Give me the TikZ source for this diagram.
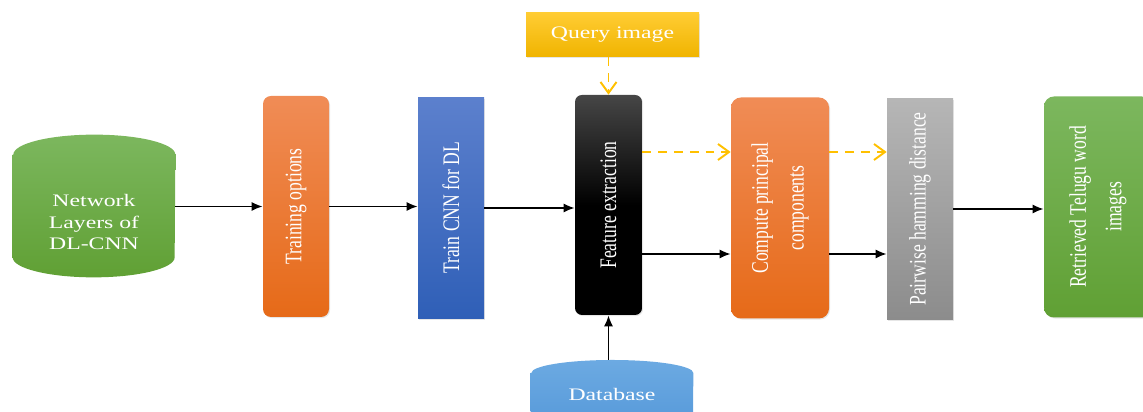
\documentclass[tikz,border=0pt]{standalone}
\usepackage{fontspec}
\setmainfont{Liberation Serif}
\usetikzlibrary{arrows.meta,shadows}

\definecolor{grtop}{RGB}{124,183,94}
\definecolor{grbot}{RGB}{96,160,52}
\definecolor{ortop}{RGB}{240,140,86}
\definecolor{orbot}{RGB}{230,106,24}
\definecolor{bltop}{RGB}{92,128,205}
\definecolor{blbot}{RGB}{47,95,183}
\definecolor{gytop}{RGB}{182,182,182}
\definecolor{gybot}{RGB}{140,140,140}
\definecolor{bktop}{RGB}{70,70,70}
\definecolor{ydtop}{RGB}{255,204,51}
\definecolor{ydbot}{RGB}{240,180,0}
\definecolor{dbtop}{RGB}{108,170,226}
\definecolor{dbbot}{RGB}{72,142,212}
\definecolor{qline}{RGB}{255,192,0}

\begin{document}
\begin{tikzpicture}[
      stage/.style={
        minimum width=1.32cm,
        minimum height=4.42cm,
        inner sep=0pt,
        drop shadow={opacity=0.2,shadow xshift=0.6pt,shadow yshift=-0.6pt}
      },
      store/.style={
        minimum width=3.24cm,
        minimum height=2.84cm,
        inner sep=0pt
      },
      vtext/.style={
        rotate=90,
        yscale=1.35,
        text=white,
        align=center,
        font=\fontsize{10}{12}\selectfont
      },
      htext/.style={
        xscale=1.35,
        text=white,
        align=center,
        font=\fontsize{10}{12}\selectfont
      },
      flow/.style={-{Latex[length=2.2mm,width=1.8mm]},line width=0.9pt},
      qflow/.style={-{Straight Barb[length=2.2mm,width=3.2mm]},qline,
        line width=1.1pt,dash pattern=on 5pt off 4pt}
    ]
      \path[use as bounding box,clip] (0,0) rectangle (22.86,8.24);

      % stores (drawn as drums round their nodes)
      \node (net) at (1.88,4.12) [store]{};
      \node (db) at (12.24,1.04) [store,anchor=north,minimum height=2.2cm]{};
      \shade[top color=grtop,bottom color=grbot]
        ([yshift=-0.4cm]net.north west) -- ([yshift=0.4cm]net.south west)
        arc[start angle=180,end angle=360,x radius=1.62cm,y radius=0.4cm]
        -- ([yshift=-0.4cm]net.north east)
        arc[start angle=0,end angle=180,x radius=1.62cm,y radius=0.4cm] -- cycle;
      \shade[top color=dbtop,bottom color=dbbot]
        ([yshift=-0.26cm]db.north west) -- ([yshift=0.26cm]db.south west)
        arc[start angle=180,end angle=360,x radius=1.62cm,y radius=0.26cm]
        -- ([yshift=-0.26cm]db.north east)
        arc[start angle=0,end angle=180,x radius=1.62cm,y radius=0.26cm] -- cycle;

      % pipeline stages
      \node (opts) at (5.92,4.11) [stage,rounded corners=0.16cm,
        top color=ortop,bottom color=orbot]{};
      \node (cnn) at (9.02,4.08) [stage,top color=bltop,bottom color=blbot]{};
      \node (fx) at (12.17,4.14) [stage,minimum width=1.34cm,minimum height=4.4cm,
        rounded corners=0.14cm,top color=bktop,bottom color=black,middle color=black]{};
      \node (cpc) at (15.6,4.08) [stage,minimum width=1.96cm,rounded corners=0.2cm,
        top color=ortop,bottom color=orbot]{};
      \node (ham) at (18.4,4.06) [stage,top color=gytop,bottom color=gybot]{};
      \node (ret) at (21.96,4.1) [stage,minimum width=2.16cm,rounded corners=0.2cm,
        top color=grtop,bottom color=grbot]{};
      \node (qry) at (12.25,7.54) [stage,minimum width=3.46cm,minimum height=0.88cm,
        top color=ydtop,bottom color=ydbot]{};

      % labels
      \node (netl) at (1.88,3.8) [htext]{Network\\Layers of\\DL-CNN};
      \node (dbl) at (12.24,0.36) [htext]{Database};
      \node (qryl) at (qry) [htext]{Query image};
      \node (optsl) at (opts) [vtext]{Training options};
      \node (cnnl) at (cnn) [vtext]{Train CNN for DL};
      \node (fxl) at (fx) [vtext]{Feature extraction};
      \node (cpcl) at (cpc) [vtext]{Compute principal\\[3pt]components};
      \node (haml) at (ham) [vtext]{Pairwise hamming distance};
      \node (retl) at (ret) [vtext]{Retrieved Telugu word\\[3pt]images};

      % connectors
      \draw[flow] (net.east |- opts.west) -- (opts.west);
      \draw[flow] (opts.east) -- (opts.east -| cnn.west);
      \draw[flow] (cnn.east) -- (cnn.east -| fx.west);
      \draw[flow] ([yshift=-0.98cm]fx.east) coordinate (fa) -- (fa -| cpc.west);
      \draw[flow] (fa -| cpc.east) -- (fa -| ham.west);
      \draw[flow] (ham.east) -- (ham.east -| ret.west);
      \draw[flow] (db.north -| fx) -- (fx.south);

      \draw[qflow] (qry.south -| fx) -- (fx.north);
      \draw[qflow] ([yshift=1.06cm]fx.east) coordinate (fq) -- (fq -| cpc.west);
      \draw[qflow] (fq -| cpc.east) -- (fq -| ham.west);

    \end{tikzpicture}
\end{document}
